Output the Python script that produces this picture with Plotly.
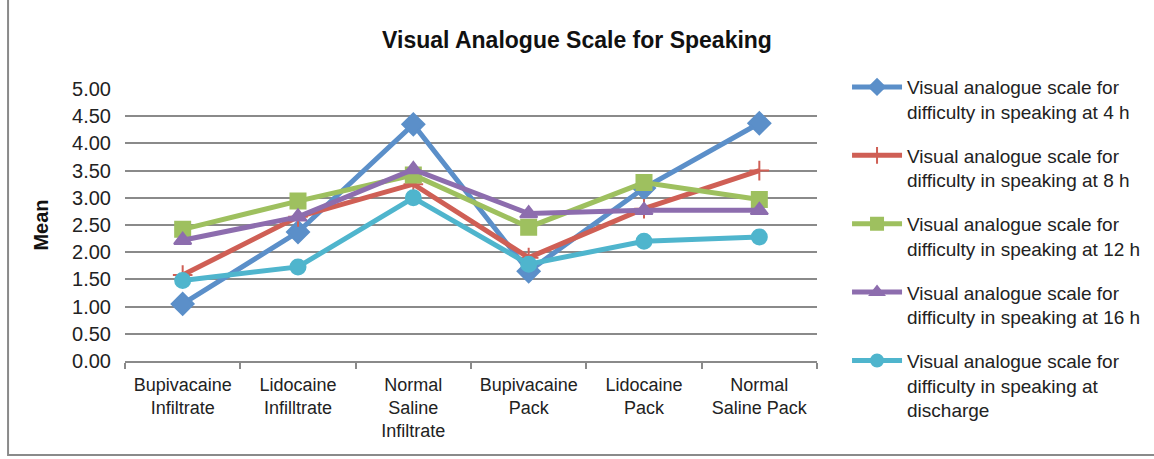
import plotly.graph_objects as go

categories = ["Bupivacaine<br>Infiltrate", "Lidocaine<br>Infilltrate", "Normal<br>Saline<br>Infiltrate",
              "Bupivacaine<br>Pack", "Lidocaine<br>Pack", "Normal<br>Saline Pack"]
series_names = [
    "Visual analogue scale for<br>difficulty in speaking at 4 h",
    "Visual analogue scale for<br>difficulty in speaking at 8 h",
    "Visual analogue scale for<br>difficulty in speaking at 12 h",
    "Visual analogue scale for<br>difficulty in speaking at 16 h",
    "Visual analogue scale for<br>difficulty in speaking at<br>discharge",
]
vas_4h = [1.05, 2.37, 4.35, 1.65, 3.18, 4.37]
vas_8h = [1.58, 2.65, 3.25, 1.90, 2.80, 3.50]
vas_12h = [2.42, 2.94, 3.42, 2.46, 3.28, 2.97]
vas_16h = [2.22, 2.65, 3.52, 2.71, 2.77, 2.77]
vas_discharge = [1.48, 1.73, 3.00, 1.78, 2.20, 2.28]
y_ticks = [0, 0.5, 1, 1.5, 2, 2.5, 3, 3.5, 4, 4.5, 5]

colors = ["#5B8FC9", "#CF5F55", "#9EC05F", "#8D6DAE", "#4FB5CD"]
symbols = ["diamond", "cross-thin", "square", "triangle-up", "circle"]
sizes = [17, 14, 15, 15, 15]
all_vals = [vas_4h, vas_8h, vas_12h, vas_16h, vas_discharge]

fig = go.Figure()
for i, (name, vals) in enumerate(zip(series_names, all_vals)):
    fig.add_trace(go.Scatter(
        x=categories, y=vals, name=name, mode="lines+markers",
        legendgroup=str(i),
        line=dict(color=colors[i], width=5),
        marker=dict(symbol=symbols[i], size=sizes[i], color=colors[i],
                    line=dict(color=colors[i], width=2)),
    ))

font_family = "Liberation Sans, Arial, sans-serif"
fig.update_layout(
    width=1154, height=459,
    margin=dict(l=125, r=337, t=89, b=98, autoexpand=False),
    paper_bgcolor="white", plot_bgcolor="white",
    title=dict(text="<b>Visual Analogue Scale for Speaking</b>", x=0.5, xref="container",
               xanchor="center", y=0.913, yref="container", yanchor="middle",
               font=dict(family=font_family, size=23, color="#111")),
    font=dict(family=font_family, color="#222"),
    legend=dict(x=1.0434, xanchor="left", y=1.077, yanchor="top",
                font=dict(family=font_family, size=19, color="#222"),
                tracegroupgap=16, valign="top", itemwidth=50, itemsizing="constant",
                maxheight=1.0, bgcolor="rgba(0,0,0,0)"),
    showlegend=True,
)
fig.update_xaxes(
    type="category", range=[-0.5, len(categories) - 0.5],
    tickson="boundaries", ticks="outside", ticklen=6,
    tickcolor="#8a8a8a", tickwidth=2, ticklabelstandoff=6,
    showline=True, linecolor="#8a8a8a", linewidth=2, showgrid=False,
    tickfont=dict(family=font_family, size=18, color="#222"),
)
fig.update_yaxes(
    range=[0, 5], tickvals=y_ticks, tickformat=".2f",
    showgrid=True, gridcolor="#8a8a8a", gridwidth=2,
    zeroline=False, showline=False, ticks="outside", ticklen=9,
    tickcolor="rgba(0,0,0,0)",
    tickfont=dict(family=font_family, size=20, color="#222"),
    title=dict(text="<b>Mean</b>", font=dict(family=font_family, size=20, color="#111"), standoff=18),
)
# outer chart border
fig.add_shape(type="rect", xref="paper", yref="paper",
              x0=-0.169, x1=1.7, y0=-0.3456, y1=1.5,
              line=dict(color="#8a8a8a", width=2), layer="below")

fig.write_html("out.html", config={"displayModeBar": False},
               post_script="document.body.style.margin='0';document.body.style.overflow='hidden';")
